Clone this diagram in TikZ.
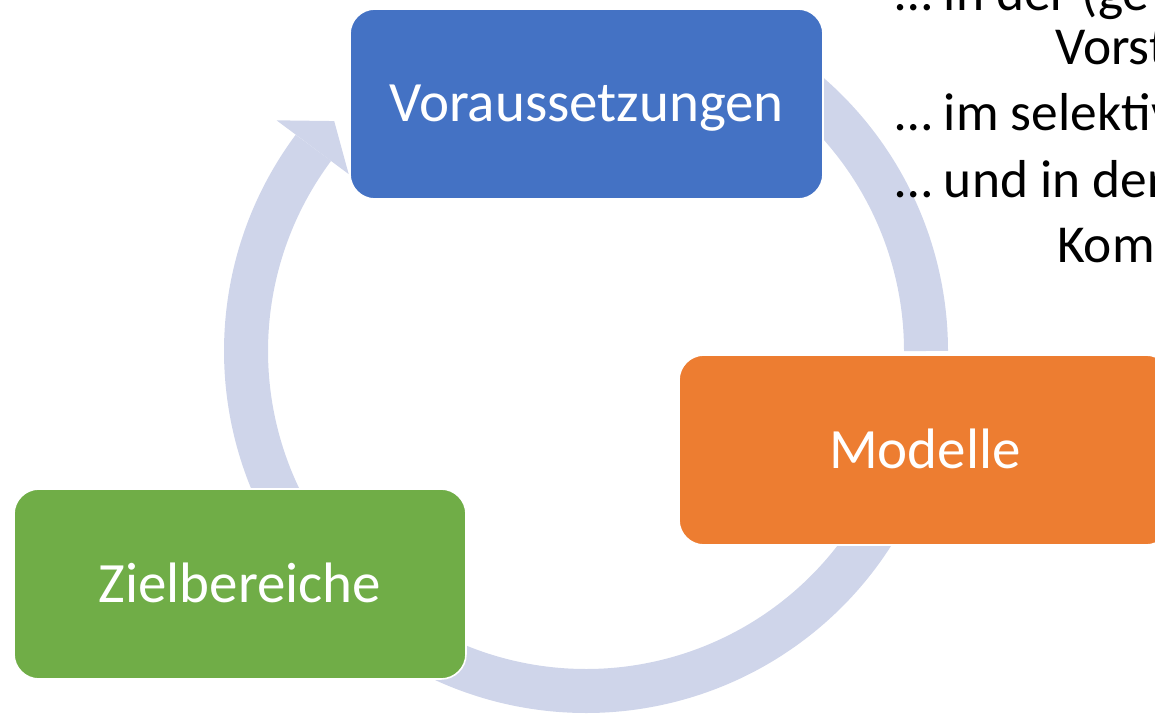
\documentclass[tikz,border=0pt]{standalone}
\usepackage{fontspec}
\setmainfont{Carlito}
\usetikzlibrary{positioning}
\definecolor{ringcol}{HTML}{CFD5EA}
\definecolor{boxblue}{HTML}{4472C4}
\definecolor{boxorange}{HTML}{ED7D31}
\definecolor{boxgreen}{HTML}{70AD47}

\begin{document}
\begin{tikzpicture}[x=0.5pt,y=0.5pt]
  \tikzset{ring/.style = {draw=ringcol, line width=22pt},
           cyclebox/.style = {draw=white, line width=0.8pt, rounded corners=12.5pt,
                              minimum height=95pt, text=white, text height=18pt,
                              text depth=0pt, font=\fontsize{28.5}{34}\selectfont},
           side/.style = {anchor=base west, font=\fontsize{26.7}{32}\selectfont}}
  \useasboundingbox (0,0) rectangle (1155,713);
  \clip (0,0) rectangle (1155,713);
  \coordinate (c) at (586,362);

  % ring behind the boxes
  \draw[ring] ([shift={(60:340)}]c) arc[start angle=60, end angle=0, radius=340];
  \draw[ring] ([shift={(-20:340)}]c) arc[start angle=-20, end angle=-125, radius=340];
  \draw[ring] ([shift={(-145:340)}]c) arc[start angle=-145, end angle=-216.7, radius=340];
  \fill[ringcol] ([shift={(143.3:386)}]c) -- ([shift={(137.6:341)}]c)
                 -- ([shift={(143.3:296)}]c) -- cycle;

  \node[cyclebox, fill=boxblue, minimum width=236.5pt] (vor) at (586.5,609) {Voraussetzungen};
  \node[cyclebox, fill=boxorange, minimum width=246pt] (mod) at (925,263) {Modelle};
  \node[cyclebox, fill=boxgreen, minimum width=226pt] (ziel) at (240,129) {Zielbereiche};

  \node[side] (t1) at (888,702) {… in der (ge};
  \node[side] (t2) at (1048,648) {Vorst};
  \node[side] (t3) at (888,582) {… im selektiv};
  \node[side] (t4) at (888,515) {… und in der};
  \node[side] (t5) at (1050,450) {Komm};
\end{tikzpicture}
\end{document}
